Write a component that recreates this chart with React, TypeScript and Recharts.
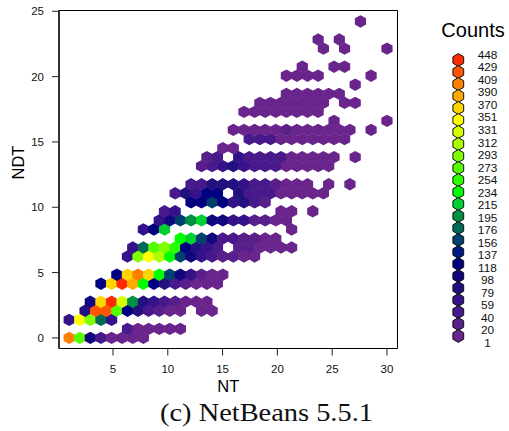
import React from 'react';
import { ScatterChart, Scatter, XAxis, YAxis, ReferenceArea, Legend } from 'recharts';

type Bin = [number, number];

// Hexagon bins, one list per NDT row: [NT, count]
const r00: Bin[] = [[1,400],[1.97,280],[2.93,90],[3.9,30],[4.87,8],[5.83,6],[6.8,5],[7.77,3]];
const r01: Bin[] = [[6.32,35],[7.28,10],[8.25,8],[9.22,6],[10.18,5],[11.15,4]];
const r02: Bin[] = [[1,50],[1.97,350],[2.93,290],[3.9,170],[4.87,55]];
const r03: Bin[] = [[2.45,70],[3.42,430],[4.38,420],[5.35,270],[6.32,120],[7.28,85],[8.25,35],[9.22,18],[10.18,8],[11.15,5],[13.08,3],[14.05,2]];
const r04: Bin[] = [[2.93,95],[3.9,370],[4.87,440],[5.83,325],[6.8,190],[7.77,80],[8.73,50],[9.7,35],[10.67,12],[11.63,8],[12.6,6],[13.57,4]];
const r06: Bin[] = [[3.9,125],[4.87,375],[5.83,440],[6.8,395],[7.77,240],[8.73,125],[9.7,70],[10.67,45],[11.63,15],[12.6,10],[13.57,8],[14.53,5]];
const r07: Bin[] = [[5.35,110],[6.32,370],[7.28,410],[8.25,375],[9.22,240],[10.18,150],[11.15,90],[12.12,60],[13.08,15],[14.05,10],[15.02,8]];
const r09: Bin[] = [[6.32,65],[7.28,285],[8.25,345],[9.22,320],[10.18,235],[11.15,165],[12.12,100],[13.08,50],[14.05,40],[15.02,25],[15.98,12],[16.95,8],[17.92,5]];
const r10: Bin[] = [[6.8,65],[7.77,170],[8.73,270],[9.7,295],[10.67,245],[11.63,120],[12.6,85],[13.57,50],[14.53,40],[16.47,25],[17.43,12],[18.4,8],[19.37,6],[20.33,5],[21.3,3]];
const r11: Bin[] = [[11.15,235],[12.12,210],[13.08,150],[14.05,90],[15.02,30],[15.98,35],[16.95,15],[17.92,12],[18.88,8],[19.85,4]];
const r12: Bin[] = [[7.77,55],[8.73,110],[9.7,215],[21.3,2]];
const r13: Bin[] = [[9.22,60],[10.18,105],[11.15,150],[12.12,200],[13.08,205],[14.05,105],[15.02,90],[15.98,65],[16.95,55],[17.92,22],[18.88,18],[19.85,10],[20.82,4]];
const r14: Bin[] = [[9.7,35],[10.67,60],[20.33,5],[21.3,3],[23.23,1]];
const r15: Bin[] = [[12.12,115],[13.08,125],[14.05,165],[15.02,110],[15.98,60],[16.95,75],[17.92,45],[18.88,25]];
const r16: Bin[] = [[10.67,40],[11.63,70],[12.6,60],[13.57,110],[14.53,115],[16.47,70],[17.43,45],[18.4,40],[19.37,30],[20.33,10],[21.3,8],[22.27,6],[23.23,5],[24.2,3]];
const r17: Bin[] = [[12.12,40],[13.08,45],[14.05,85],[15.02,85],[15.98,75],[16.95,55],[17.92,45],[18.88,40],[19.85,12],[20.82,8],[21.78,6],[22.75,4],[24.68,2],[26.62,1]];
const r19: Bin[] = [[13.08,18],[14.05,30],[15.02,65],[15.98,70],[16.95,55],[17.92,45],[18.88,42],[19.85,38],[20.82,10],[21.78,8],[22.75,6],[23.72,5],[24.68,4]];
const r20: Bin[] = [[13.57,20],[14.53,35],[16.47,58],[17.43,45],[18.4,42],[19.37,40],[20.33,35],[21.3,8],[22.27,6],[23.23,5],[24.2,4],[25.17,2],[27.1,1]];
const r21: Bin[] = [[15.02,10],[15.98,10]];
const r22: Bin[] = [[17.43,35],[18.4,35],[19.37,30],[20.33,8],[21.3,6],[22.27,5],[23.23,5],[24.2,4],[25.17,3],[26.13,2]];
const r23: Bin[] = [[15.98,8],[16.95,8],[17.92,6],[18.88,6],[19.85,5],[20.82,28],[21.78,5],[22.75,4],[23.72,4],[24.68,3],[25.65,3],[26.62,2],[28.55,1]];
const r24: Bin[] = [[25.17,2],[30,1]];
const r25: Bin[] = [[16.95,4],[17.92,4],[18.88,4],[19.85,5],[20.82,5],[21.78,4],[22.75,3],[23.72,2]];
const r26: Bin[] = [[18.4,3],[19.37,3],[20.33,4],[21.3,4],[22.27,4],[23.23,3],[24.2,2],[26.13,1],[27.1,1]];
const r27: Bin[] = [[20.82,3],[21.78,3],[22.75,3],[23.72,2],[24.68,2],[25.65,1]];
const r28: Bin[] = [[27.1,1]];
const r29: Bin[] = [[20.82,2],[21.78,2],[22.75,2],[23.72,1],[28.55,1]];
const r30: Bin[] = [[22.27,2],[25.17,1],[26.13,1]];
const r32: Bin[] = [[24.2,1],[26.13,1],[30,1]];
const r33: Bin[] = [[23.72,1],[25.65,1]];
const r35: Bin[] = [[27.58,1]];

const ndtRows: [number, Bin[]][] = [
  [0, r00], [0.69, r01], [1.38, r02], [2.08, r03], [2.77, r04], [4.15, r06], [4.84, r07],
  [6.23, r09], [6.92, r10], [7.61, r11], [8.3, r12], [9.0, r13], [9.69, r14], [10.38, r15],
  [11.07, r16], [11.76, r17], [13.15, r19], [13.84, r20], [14.53, r21], [15.22, r22],
  [15.92, r23], [16.61, r24], [17.3, r25], [17.99, r26], [18.68, r27], [19.38, r28],
  [20.07, r29], [20.76, r30], [22.14, r32], [22.84, r33], [24.22, r35],
];

// Legend
const legendCounts = [448,429,409,390,370,351,331,312,293,273,254,234,215,195,176,156,137,118,98,79,59,40,20,1];
const legendColors = [
  '#ff2b00','#ff5500','#ff8000','#ffaa00','#ffd500','#ffff00','#d5ff00','#aaff00','#80ff00','#55ff00','#2bff00','#00ff00',
  '#00d030','#009044','#006a55','#00406c','#001a80','#000080','#12067f','#23107f','#35128a','#47198a','#581f8a','#6a258c',
];
const xTicks = [5, 10, 15, 20, 25, 30];
const yTicks = [0, 5, 10, 15, 20, 25];
const xDomain: [number, number] = [0.073, 30.96];
const yDomain: [number, number] = [-0.81, 25.06];

const points = ndtRows.flatMap(([ndt, row]) => row.map(([nt, count]) => ({ nt, ndt, count })));

const sans = '"Liberation Sans", Arial, sans-serif';

function colorFor(count: number): string {
  let best = 0;
  legendCounts.forEach((c, i) => {
    if (Math.abs(c - count) < Math.abs(legendCounts[best] - count)) best = i;
  });
  return legendColors[best];
}

function hexPoints(cx: number, cy: number, hw: number, r: number): string {
  return [
    [cx, cy - r], [cx + hw, cy - r / 2], [cx + hw, cy + r / 2],
    [cx, cy + r], [cx - hw, cy + r / 2], [cx - hw, cy - r / 2],
  ].map((p) => p.join(',')).join(' ');
}

function HexShape(props: any) {
  const { cx, cy, payload } = props;
  return <polygon points={hexPoints(cx, cy, 5.6, 6.2)} fill={colorFor(payload.count)} />;
}

function CountsLegend() {
  return (
    <svg width={79} height={345} style={{ display: 'block' }}>
      <text x={43} y={27} textAnchor="middle" fontFamily={sans} fontSize={20} fill="#000">Counts</text>
      {legendCounts.map((c, i) => (
        <polygon key={c} points={hexPoints(28.3, 50 + i * 12, 5.4, 6.4)} fill={legendColors[i]} stroke="#111" strokeWidth={1} />
      ))}
      {legendCounts.map((c, i) => (
        <text key={c} x={57.5} y={48.8 + i * 12.53} textAnchor="middle" fontFamily={sans} fontSize={11.8} fill="#111">{c}</text>
      ))}
    </svg>
  );
}

export default function App() {
  return (
    <div style={{ position: 'absolute', left: 0, top: 0, width: 509, height: 431, overflow: 'hidden', background: '#fff' }}>
      <ScatterChart width={509} height={431} margin={{ top: 10.5, right: 111.5, bottom: 0, left: 0 }}>
        <XAxis
          type="number" dataKey="nt" domain={xDomain} ticks={xTicks} interval={0} allowDataOverflow
          height={82.5} tickSize={7} tickMargin={9} axisLine={false}
          tick={{ fontSize: 11.5, fontFamily: sans, fill: '#111' }} tickLine={{ stroke: '#222' }}
          label={{ value: 'NT', position: 'insideTop', offset: 32, fontSize: 16.5, fontFamily: sans, fill: '#000' }}
        />
        <YAxis
          type="number" dataKey="ndt" domain={yDomain} ticks={yTicks} interval={0} allowDataOverflow
          width={59} tickSize={7} tickMargin={8} axisLine={{ stroke: '#333', strokeWidth: 2 }}
          tick={{ fontSize: 11.5, fontFamily: sans, fill: '#111' }} tickLine={{ stroke: '#222' }}
          label={{ value: 'NDT', angle: -90, position: 'insideLeft', offset: 18, fontSize: 16.5, fontFamily: sans, fill: '#000' }}
        />
        <ReferenceArea x1={xDomain[0]} x2={xDomain[1]} y1={yDomain[0]} y2={yDomain[1]} fill="none" stroke="#000" strokeWidth={1} fillOpacity={0} />
        <Scatter data={points} shape={HexShape} isAnimationActive={false} />
        <Legend
          layout="horizontal" verticalAlign="middle" align="center"
          wrapperStyle={{ position: 'absolute', left: 430, top: 10, width: 79, height: 345, margin: 0, padding: 0 }}
          content={<CountsLegend />}
        />
        <text x={266.5} y={421} textAnchor="middle" fontFamily='"Liberation Serif", serif' fontSize={25} fill="#111" textLength={213} lengthAdjust="spacingAndGlyphs">(c) NetBeans 5.5.1</text>
      </ScatterChart>
    </div>
  );
}
